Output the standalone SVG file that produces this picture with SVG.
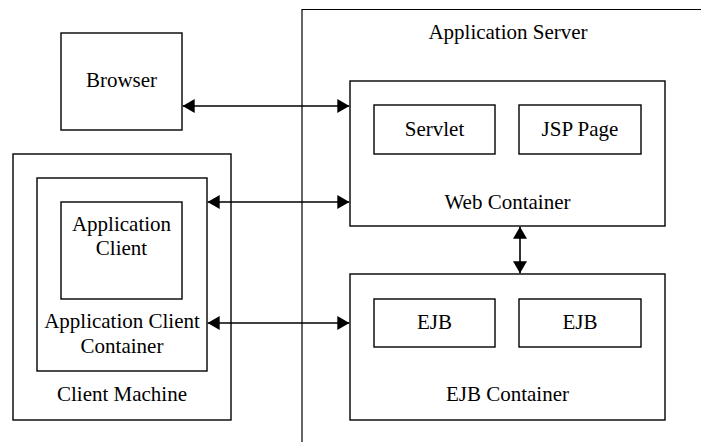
<svg xmlns="http://www.w3.org/2000/svg" width="701" height="442" viewBox="0 0 701 442">
<defs>
<marker id="ah" markerWidth="12" markerHeight="14" viewBox="0 0 12 14" refX="12" refY="7" orient="auto-start-reverse" markerUnits="userSpaceOnUse">
<path d="M0,0 L12,7 L0,14 Z" fill="#000"/>
</marker>
</defs>
<style>
.box{fill:#fff;stroke:#000;stroke-width:1.4}
text{font-family:'Liberation Serif','Times New Roman',Times,serif;font-size:21px;fill:#000;text-anchor:middle}
.c{stroke:#000;stroke-width:1.6;fill:none;marker-start:url(#ah);marker-end:url(#ah)}
</style>
<rect width="701" height="442" fill="#fff"/>
<g id="app-server">
<path d="M302,442 V9.5 H701" fill="none" stroke="#000" stroke-width="1.2"/>
<text x="508" y="39">Application Server</text>
</g>
<g id="browser">
<rect class="box" x="61" y="33" width="121" height="97"/>
<text x="121.5" y="87">Browser</text>
</g>
<g id="client-machine">
<rect class="box" x="13" y="154" width="218" height="266"/>
<text x="122" y="401">Client Machine</text>
</g>
<g id="app-client-container">
<rect class="box" x="37" y="178" width="170" height="193"/>
<text x="122" y="328">Application Client</text>
<text x="122" y="353">Container</text>
</g>
<g id="app-client">
<rect class="box" x="61" y="202" width="121" height="97"/>
<text x="121.5" y="231">Application</text>
<text x="121.5" y="255">Client</text>
</g>
<g id="web-container">
<rect class="box" x="350" y="81" width="315" height="145"/>
<text x="507.5" y="209">Web Container</text>
</g>
<g id="servlet">
<rect class="box" x="374" y="105" width="121" height="49"/>
<text x="434.5" y="136">Servlet</text>
</g>
<g id="jsp-page">
<rect class="box" x="519" y="105" width="122" height="49"/>
<text x="580" y="136">JSP Page</text>
</g>
<g id="ejb-container">
<rect class="box" x="350" y="274" width="315" height="146"/>
<text x="507.5" y="401">EJB Container</text>
</g>
<g id="ejb1">
<rect class="box" x="374" y="299" width="121" height="48"/>
<text x="434.5" y="329">EJB</text>
</g>
<g id="ejb2">
<rect class="box" x="519" y="299" width="122" height="48"/>
<text x="580" y="329">EJB</text>
</g>
<g id="connectors">
<line class="c" x1="182.7" y1="106" x2="349.3" y2="106"/>
<line class="c" x1="207.7" y1="202" x2="349.3" y2="202"/>
<line class="c" x1="207.7" y1="323" x2="349.3" y2="323"/>
<line class="c" x1="520" y1="226.7" x2="520" y2="273.3"/>
</g>
</svg>
